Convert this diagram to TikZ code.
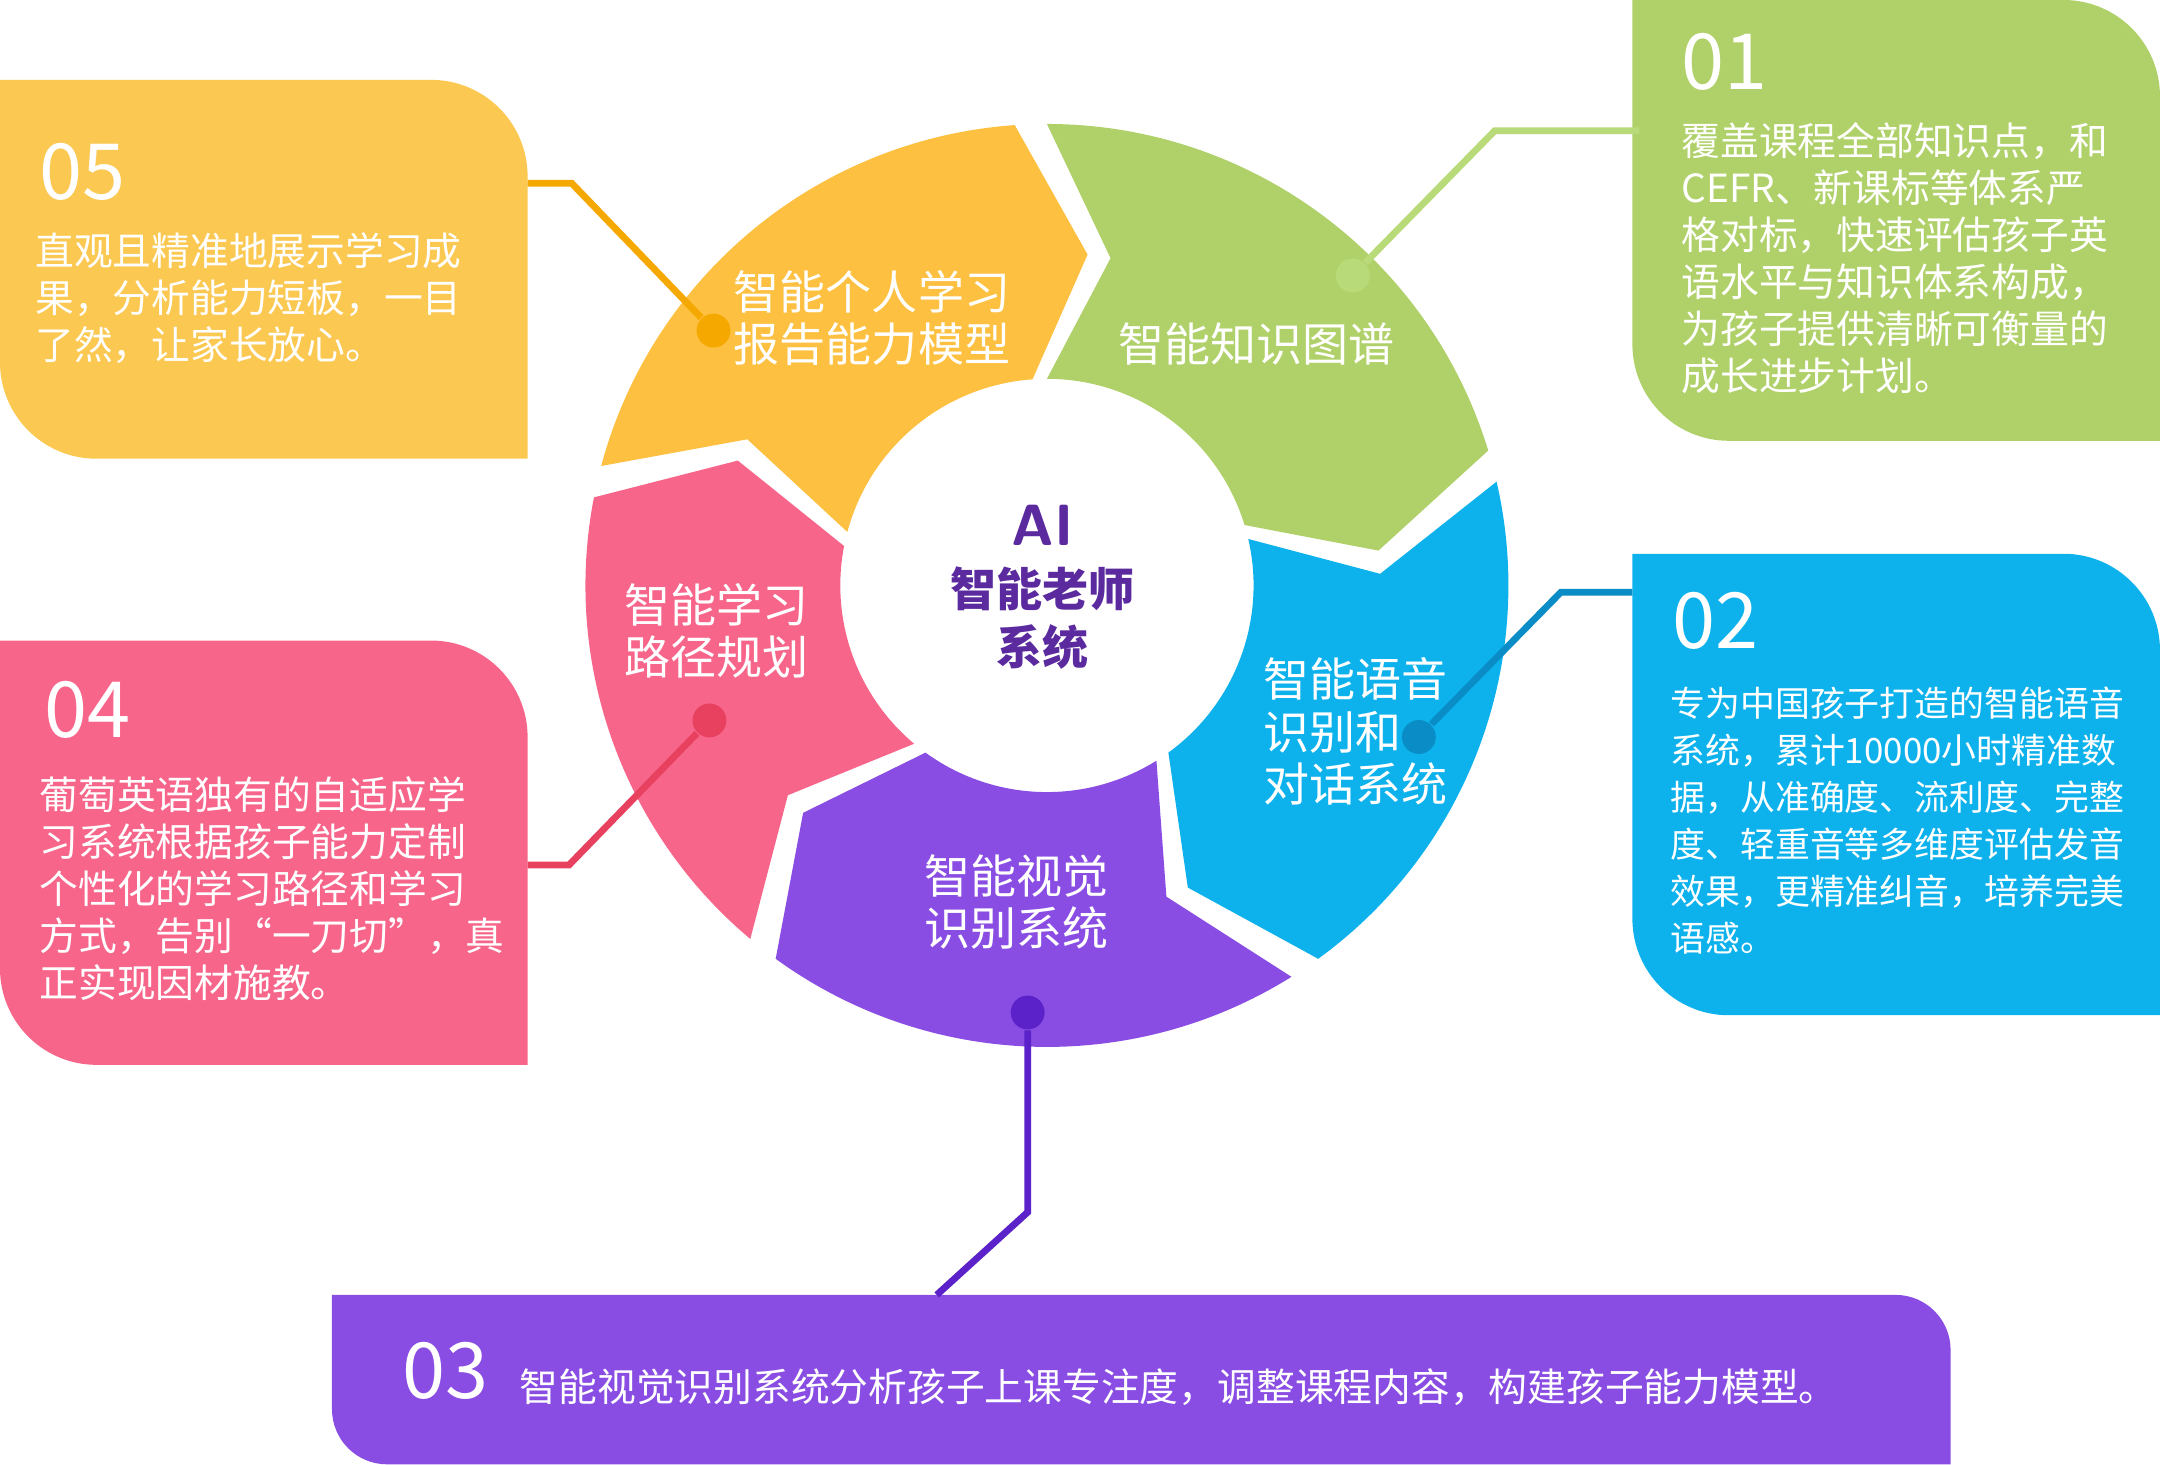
\documentclass[tikz,border=0pt]{standalone}
\usepackage{fontspec}
\newfontfamily\cjk{Noto Sans CJK SC}
\usepackage{tikz}
\usetikzlibrary{calc}
\definecolor{cyel}{HTML}{FDC040}
\definecolor{cyelbox}{HTML}{FBC852}
\definecolor{cgrn}{HTML}{B0D16A}
\definecolor{cblu}{HTML}{0DB2EC}
\definecolor{cpur}{HTML}{8A4DE3}
\definecolor{cpnk}{HTML}{F7668A}
\definecolor{lyel}{HTML}{F5A800}
\definecolor{lgrn}{HTML}{B9DA78}
\definecolor{lblu}{HTML}{0A8CC6}
\definecolor{lpnk}{HTML}{E8405F}
\definecolor{lpur}{HTML}{5A22C8}
\definecolor{ctitle}{HTML}{5B2A9E}
% ring segment: start angle, end angle, colour
\newcommand{\seg}[3]{\fill[#3] (#1:150) -- ({#1-11}:242) -- (#1:335)
  arc[start angle=#1, end angle={#2+4}, radius=335] -- ({#2+4-11}:242)
  -- ({#2+4}:150) arc[start angle={#2+4}, end angle=#1, radius=150] -- cycle;}
% text box: x1, y1, x2, y2, radius, colour
\newcommand{\infobox}[6]{\fill[#6] (#1,#4) -- ({#3-#5},#4)
  arc[start angle=90, end angle=0, radius=#5] -- (#3,#2) -- ({#1+#5},#2)
  arc[start angle=270, end angle=180, radius=#5] -- cycle;}
\tikzset{
  num/.style={anchor=west, text=white, font=\cjk\fontsize{16}{16}\selectfont},
  body/.style={anchor=north west, align=left, text=white, inner sep=0pt,
    font=\cjk\fontsize{8}{9.7}\selectfont},
  seglabel/.style={align=left, text=white, font=\cjk\fontsize{9.5}{10.8}\selectfont},
  dot/.style={circle, fill=#1, inner sep=0pt, minimum size=7pt},
  link/.style={line width=1.4pt}
}
\begin{document}
\begin{tikzpicture}[x=0.01cm, y=0.01cm]
    \useasboundingbox (0,0) rectangle (1568,1063);
    % ring
    \begin{scope}[shift={(760,638)}]
        \seg{165}{90}{cyel}
        \seg{90}{13}{cgrn}
        \seg{13}{-58}{cblu}
        \seg{-58}{-130}{cpur}
        \seg{-130}{-195}{cpnk}
    \end{scope}
    % ring labels
    \node[seglabel] (s5) at (633,832) {智能个人学习\\报告能力模型};
    \node[seglabel] (s1) at (912,813) {智能知识图谱};
    \node[seglabel, anchor=west] (s2) at (905,532) {智能语音\\识别和\\对话系统};
    \node[seglabel] (s3) at (738,408) {智能视觉\\识别系统};
    \node[seglabel] (s4) at (520,605) {智能学习\\路径规划};
    \node[text=ctitle, font=\sffamily\bfseries\fontsize{12}{12}\selectfont] (ai) at (757,682) {AI};
    \node[text=ctitle, align=center, font=\cjk\bfseries\fontsize{9.5}{12}\selectfont] (core) at (757,614) {智能老师\\系统};
    % boxes
    \infobox{0}{730}{383}{1005}{70}{cyelbox}
    \infobox{1185}{743}{1568}{1063}{70}{cgrn}
    \infobox{1185}{326}{1568}{661}{70}{cblu}
    \infobox{0}{290}{383}{598}{70}{cpnk}
    \infobox{241}{0}{1416}{123}{40}{cpur}
    % box texts
    \node[num] (n5) at (16,938) {05};
    \node[body] (t5) at (25,895) {直观且精准地展示学习成\\果，分析能力短板，一目\\了然，让家长放心。};
    \node[num] (n1) at (1208,1018) {01};
    \node[body] (t1) at (1220,975) {覆盖课程全部知识点，和\\CEFR、新课标等体系严\\格对标，快速评估孩子英\\语水平与知识体系构成，\\为孩子提供清晰可衡量的\\成长进步计划。};
    \node[num] (n2) at (1202,612) {02};
    \node[body, font=\cjk\fontsize{7.2}{9.7}\selectfont] (t2) at (1212,565) {专为中国孩子打造的智能语音\\系统，累计10000小时精准数\\据，从准确度、流利度、完整\\度、轻重音等多维度评估发音\\效果，更精准纠音，培养完美\\语感。};
    \node[num] (n4) at (20,548) {04};
    \node[body] (t4) at (28,500) {葡萄英语独有的自适应学\\习系统根据孩子能力定制\\个性化的学习路径和学习\\方式，告别“一刀切”，真\\正实现因材施教。};
    \node[num] (n3) at (280,68) {03};
    \node[anchor=west, text=white, font=\cjk\fontsize{8}{9.7}\selectfont] (t3) at (365,56) {智能视觉识别系统分析孩子上课专注度，调整课程内容，构建孩子能力模型。};
    % connectors
    \node[dot=lyel] (d5) at (518,823) {};
    \coordinate (b5) at (383,930);
    \draw[link, lyel] (d5) -- (415,930) -- (b5);
    \node[dot=lgrn] (d1) at (982,863) {};
    \coordinate (b1) at (1190,968);
    \draw[link, lgrn] (d1) -- (1085,968) -- (b1);
    \node[dot=lblu] (d2) at (1030,528) {};
    \coordinate (b2) at (1185,633);
    \draw[link, lblu] (d2) -- (1133,633) -- (b2);
    \node[dot=lpnk] (d4) at (515,540) {};
    \coordinate (b4) at (383,435);
    \draw[link, lpnk] (d4) -- (413,435) -- (b4);
    \node[dot=lpur] (d3) at (746,328) {};
    \coordinate (b3) at (680,123);
    \draw[link, lpur] (d3) -- (746,183) -- (b3);
\end{tikzpicture}
\end{document}
